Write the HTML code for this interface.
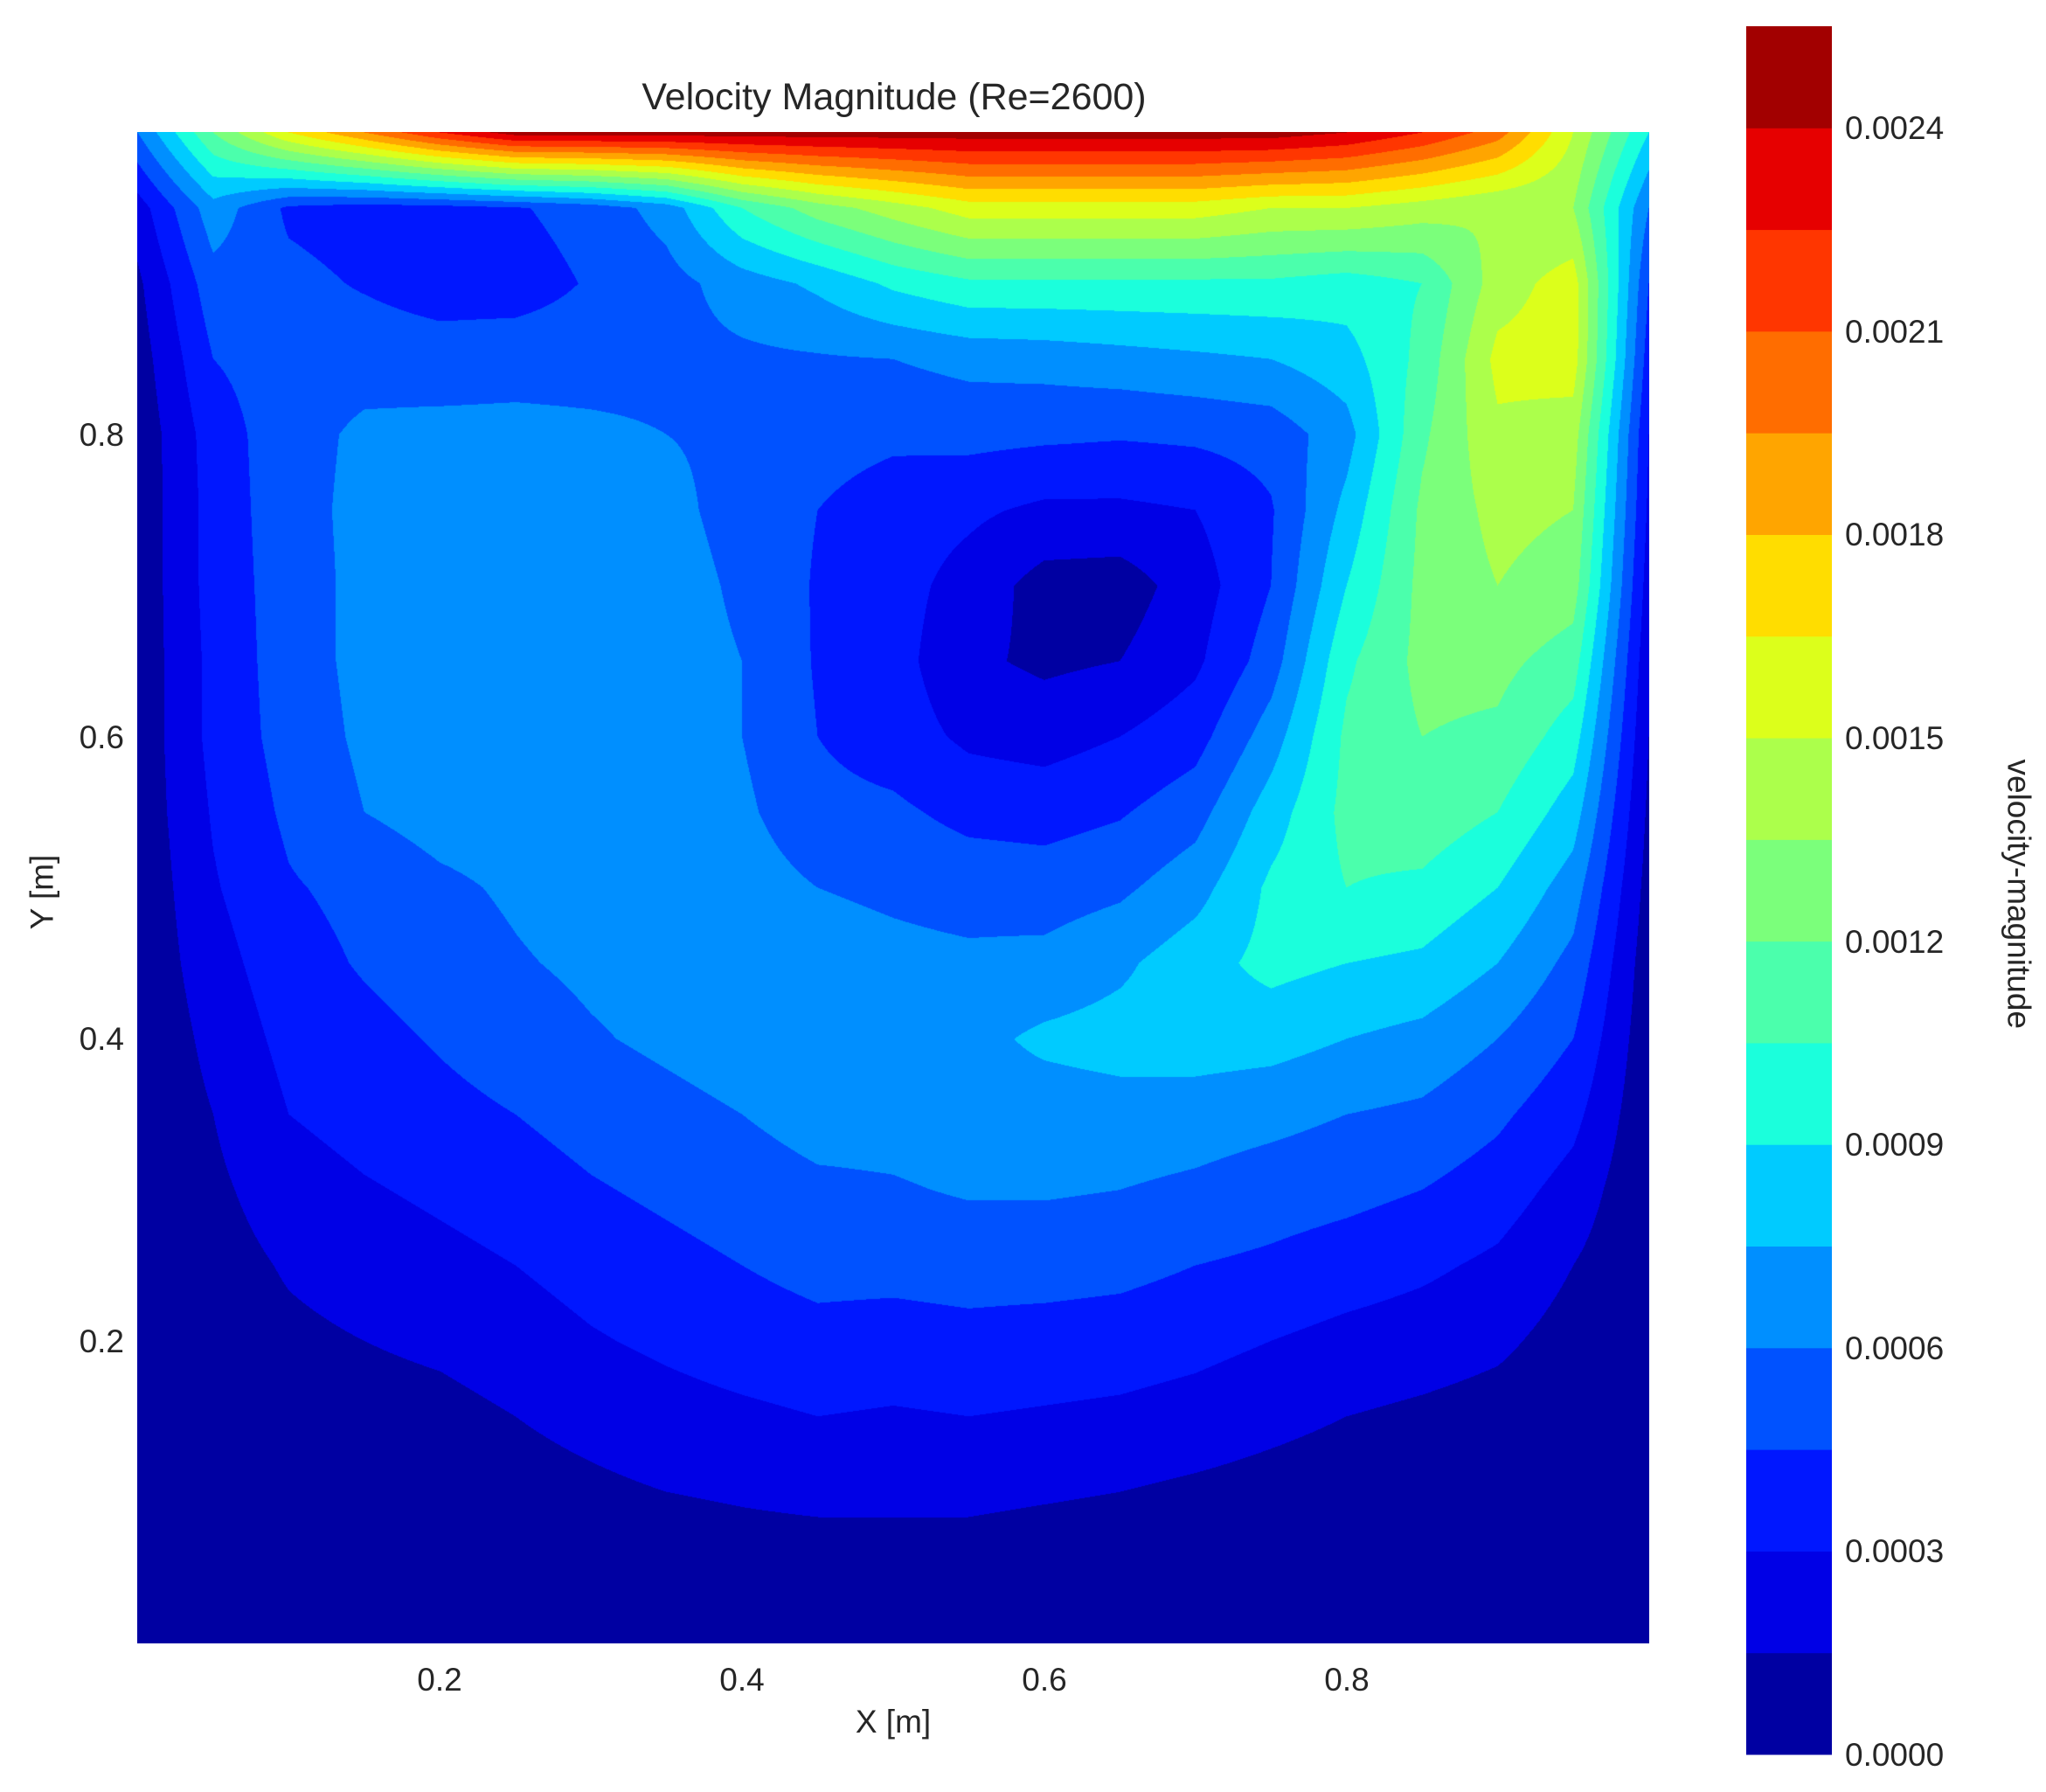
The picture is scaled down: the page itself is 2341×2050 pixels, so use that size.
<!DOCTYPE html>
<html>
<head>
<meta charset="utf-8">
<style>
  html,body{margin:0;padding:0;background:#fff;}
  body{width:2341px;height:2050px;position:relative;overflow:hidden;font-family:"Liberation Sans",sans-serif;color:#262626;}
  #field{position:absolute;left:157px;top:151px;}
  .lbl{position:absolute;font-size:37px;line-height:1;white-space:nowrap;}
</style>
</head>
<body>
<div class="lbl" style="left:0;width:2046px;top:90px;text-align:center;font-size:43px;">Velocity Magnitude (Re=2600)</div>
<canvas id="field" width="1730" height="1729"></canvas>
<div class="lbl" style="left:922px;width:200px;top:1951px;text-align:center;">X [m]</div>
<div class="lbl" style="left:-2px;top:1002px;width:100px;text-align:center;transform:rotate(-90deg);">Y [m]</div>
<svg id="cbar" style="position:absolute;left:0;top:0" width="2341" height="2050"></svg>
<div class="lbl" style="left:2160px;top:1000px;width:300px;text-align:center;transform:rotate(90deg);">velocity-magnitude</div>
<div id="ticks"></div>
<script>
// speed grid in units of 0.00015 m/s; rows from y=1.0 (top) to y=0.0, columns x=0..1 step 0.05
const gridX = [0,0.05,0.1,0.15,0.2,0.25,0.3,0.35,0.4,0.45,0.5,0.55,0.6,0.65,0.7,0.75,0.8,0.85,0.9,0.95,1];
const gridY = [1,0.95,0.9,0.85,0.8,0.75,0.7,0.65,0.6,0.55,0.5,0.45,0.4,0.35,0.3,0.25,0.2,0.15,0.1,0.05,0];
const speedUnit = 1.5e-4;
const speedRows = [
[4,8,11,13,15,16.5,16.5,16.5,16.5,16.5,16.5,16.5,16.5,16.5,16.5,16.5,16,15,13.5,10,6],
[1.5,4.6,2.8,2.5,2.6,2.9,3.4,4.4,7,8.5,9.5,10.5,10.5,10.5,10.5,10,10,9.5,9,9,4],
[0.8,3.6,3.3,2.9,2.5,2.5,3.1,3.6,4.5,5.2,6.2,6.8,6.8,6.8,6.8,6.8,6.5,7,9.5,10.5,3],
[0.5,3.0,3.5,3.6,3.5,3.6,3.6,3.7,3.8,3.9,4.0,4.3,4.4,4.6,4.8,5.0,5.6,7.3,10.3,10.5,2.5],
[0.3,2.5,3.6,4.2,4.3,4.3,4.2,4.0,3.8,3.4,3.2,3.3,3.2,3.1,3.2,3.4,4.6,7.8,9.8,9.5,2],
[0.3,2.4,3.6,4.3,4.5,4.5,4.5,4.3,3.6,3.0,2.5,2.2,1.8,1.8,2.0,2.9,5.3,8.2,9.3,9,1.8],
[0.3,2.4,3.5,4.3,4.5,4.5,4.5,4.5,3.8,2.9,2.4,1.6,0.6,0.5,1.5,3.0,6.0,8.3,9.0,8.5,1.5],
[0.3,2.3,3.5,4.3,4.5,4.5,4.5,4.5,4.0,2.9,2.4,1.2,0.8,1.0,1.8,3.5,6.8,8.3,8.3,7.5,1.2],
[0.3,2.3,3.4,4.2,4.5,4.5,4.6,4.5,4.0,3.0,2.5,1.8,1.6,2.0,2.6,4.5,7.2,8.0,7.8,6.5,1],
[0.3,2.1,3.2,4.0,4.4,4.5,4.6,4.6,4.2,3.3,3.2,2.7,2.6,2.9,3.6,5.5,7.3,7.6,7.0,5.5,0.8],
[0.2,1.9,2.9,3.3,3.8,4.15,4.5,4.6,4.5,4.0,3.8,3.6,3.5,3.8,4.6,6.2,7.0,6.8,6.0,4.5,0.6],
[0.2,1.6,2.6,3.1,3.5,3.9,4.2,4.4,4.6,4.5,4.3,4.2,4.3,4.8,5.6,6.3,6.0,5.8,5.0,3.7,0.4],
[0.1,1.3,2.3,2.7,3.1,3.5,3.9,4.2,4.5,4.7,4.6,4.7,5.2,5.4,5.5,5.4,5.0,4.7,4.0,3.0,0.3],
[0.1,1.0,2.0,2.4,2.7,3.0,3.4,3.7,4.0,4.4,4.4,4.6,4.5,4.6,4.5,4.3,4.0,3.8,3.2,2.3,0.2],
[0.1,0.8,1.5,1.9,2.2,2.5,2.9,3.2,3.5,3.8,3.9,4.1,4.1,4.0,3.8,3.5,3.3,3.0,2.5,1.6,0.1],
[0,0.6,1.1,1.4,1.7,2.0,2.4,2.7,3.0,3.3,3.3,3.4,3.4,3.3,3.0,2.8,2.5,2.2,1.8,1.0,0.1],
[0,0.45,0.8,1.0,1.2,1.5,1.9,2.2,2.5,2.7,2.6,2.7,2.6,2.5,2.3,2.0,1.7,1.5,1.2,0.6,0],
[0,0.3,0.5,0.6,0.7,1.0,1.3,1.6,1.8,2.0,1.9,2.0,1.9,1.8,1.6,1.3,1.0,0.8,0.6,0.3,0],
[0,0.2,0.3,0.4,0.4,0.6,0.8,1.0,1.1,1.2,1.2,1.2,1.1,1.0,0.8,0.6,0.4,0.3,0.2,0.1,0],
[0,0.1,0.1,0.2,0.2,0.3,0.4,0.5,0.6,0.6,0.6,0.6,0.5,0.4,0.3,0.2,0.1,0.1,0,0,0],
[0,0,0,0,0,0,0,0,0,0,0,0,0,0,0,0,0,0,0,0,0]
];
const levelStep = 0.00015;
const levelCount = 17;
const cbarTicks = [0,0.0003,0.0006,0.0009,0.0012,0.0015,0.0018,0.0021,0.0024];
const cbarTickLabels = ["0.0000","0.0003","0.0006","0.0009","0.0012","0.0015","0.0018","0.0021","0.0024"];
const xTicks = [0.2,0.4,0.6,0.8];
const yTicks = [0.2,0.4,0.6,0.8];

const PL=157, PT=151, PW=1730, PH=1729;
const xPx = x => PL + x*PW;
const yPx = y => PT + (1-y)*PH;
const CB = {l:1998, t:30, w:98, b:2007};
const vMax = levelStep*levelCount;
const cbY = v => CB.b - v/vMax*(CB.b-CB.t);

function interp(pts,t){for(let i=1;i<pts.length;i++){if(t<=pts[i][0]){const a=pts[i-1],b=pts[i];return a[1]+(b[1]-a[1])*(t-a[0])/(b[0]-a[0]);}}return pts[pts.length-1][1];}
function jet(t){
  const r=interp([[0,0],[0.35,0],[0.66,1],[0.89,1],[1,0.5]],t);
  const g=interp([[0,0],[0.125,0],[0.375,1],[0.64,1],[0.91,0],[1,0]],t);
  const b=interp([[0,0.5],[0.11,1],[0.34,1],[0.65,0],[1,0]],t);
  return [Math.round(r*255),Math.round(g*255),Math.round(b*255)];
}
const colors=[];for(let i=0;i<levelCount;i++)colors.push(jet((i+0.5)/levelCount));

const cv=document.getElementById('field');const ctx=cv.getContext('2d');
const img=ctx.createImageData(PW,PH);const d=img.data;
const nx=gridX.length-1, ny=gridY.length-1;
for(let py=0;py<PH;py++){
  const fy=py/(PH-1)*ny; let j=Math.min(Math.floor(fy),ny-1); const ty=fy-j;
  for(let px=0;px<PW;px++){
    const fx=px/(PW-1)*nx; let i=Math.min(Math.floor(fx),nx-1); const tx=fx-i;
    const v=(speedRows[j][i]*(1-tx)+speedRows[j][i+1]*tx)*(1-ty)+(speedRows[j+1][i]*(1-tx)+speedRows[j+1][i+1]*tx)*ty;
    const val=v*speedUnit;
    let L=Math.floor(val/levelStep); if(L<0)L=0; if(L>levelCount-1)L=levelCount-1;
    const c=colors[L]; const k=(py*PW+px)*4;
    d[k]=c[0];d[k+1]=c[1];d[k+2]=c[2];d[k+3]=255;
  }
}
ctx.putImageData(img,0,0);

const svg=document.getElementById('cbar');const NS='http://www.w3.org/2000/svg';
for(let i=0;i<levelCount;i++){
  const r=document.createElementNS(NS,'rect');
  const y0=cbY((i+1)*levelStep), y1=cbY(i*levelStep);
  r.setAttribute('x',CB.l);r.setAttribute('y',y0);r.setAttribute('width',CB.w);r.setAttribute('height',y1-y0+0.5);
  const c=colors[i];r.setAttribute('fill','rgb('+c.join(',')+')');
  
  
  svg.appendChild(r);
}
const tk=document.getElementById('ticks');
cbarTicks.forEach((v,i)=>{
  const el=document.createElement('div');el.className='lbl';
  el.style.left='2111px';el.style.top=(cbY(v)-18)+'px';el.textContent=cbarTickLabels[i];
  
  
  tk.appendChild(el);
});
xTicks.forEach(v=>{
  const el=document.createElement('div');el.className='lbl';
  el.style.left=(xPx(v)-50)+'px';el.style.width='100px';el.style.textAlign='center';el.style.top='1903px';el.textContent=v.toFixed(1);
  
  
  tk.appendChild(el);
});
yTicks.forEach(v=>{
  const el=document.createElement('div');el.className='lbl';
  el.style.left='42px';el.style.width='100px';el.style.textAlign='right';el.style.top=(yPx(v)-18)+'px';el.textContent=v.toFixed(1);
  
  
  tk.appendChild(el);
});
</script>
</body>
</html>
